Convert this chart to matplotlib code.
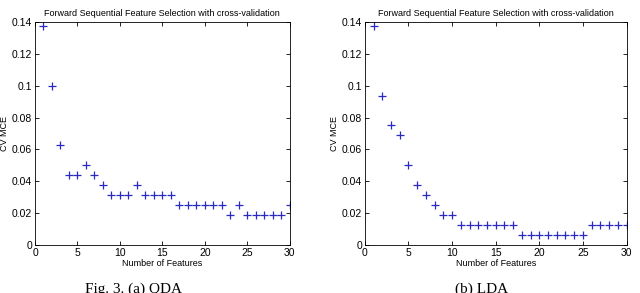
import matplotlib
matplotlib.use("Agg")
import matplotlib.pyplot as plt

n_feat = list(range(1, 31))

# (a) QDA
mce_qda = [0.1375, 0.1, 0.0625, 0.04375, 0.04375, 0.05, 0.04375, 0.0375, 0.03125, 0.03125,
           0.03125, 0.0375, 0.03125, 0.03125, 0.03125, 0.03125, 0.025, 0.025, 0.025, 0.025,
           0.025, 0.025, 0.01875, 0.025, 0.01875, 0.01875, 0.01875, 0.01875, 0.01875, 0.025]

# (b) LDA
mce_lda = [0.1375, 0.09375, 0.075, 0.06875, 0.05, 0.0375, 0.03125, 0.025, 0.01875, 0.01875,
           0.0125, 0.0125, 0.0125, 0.0125, 0.0125, 0.0125, 0.0125, 0.00625, 0.00625, 0.00625,
           0.00625, 0.00625, 0.00625, 0.00625, 0.00625, 0.0125, 0.0125, 0.0125, 0.0125, 0.0125]

yticks = [0, 0.02, 0.04, 0.06, 0.08, 0.1, 0.12, 0.14]
yticklabels = ["0", "0.02", "0.04", "0.06", "0.08", "0.1", "0.12", "0.14"]
xticks = [0, 5, 10, 15, 20, 25, 30]

plt.rcParams['font.family'] = ['Liberation Sans', 'DejaVu Sans']

fig = plt.figure(figsize=(6.4, 2.93), dpi=100)
ax1 = fig.add_axes([0.0547, 0.164, 0.398, 0.761])
ax2 = fig.add_axes([0.570, 0.164, 0.409, 0.761])

for ax, vals in [(ax1, mce_qda), (ax2, mce_lda)]:
    ax.plot(n_feat, vals, '+', color='#2a2ac0', markersize=6, markeredgewidth=0.9)
    ax.set_xlim(0, 30)
    ax.set_ylim(0, 0.14)
    ax.set_xticks(xticks)
    ax.set_yticks(yticks)
    ax.set_yticklabels(yticklabels)
    ax.tick_params(direction='in', top=True, right=True, labelsize=7.5, length=3, width=0.6, pad=2)
    for s in ax.spines.values():
        s.set_linewidth(0.6)
    ax.set_title("Forward Sequential Feature Selection with cross-validation", fontsize=6.5, pad=4)
    ax.set_xlabel("Number of Features", fontsize=6.5, labelpad=1)
    ax.set_ylabel("CV MCE", fontsize=6.5, labelpad=2)

# caption, cut off at the bottom edge as in the source image
fig.text(0.133, 1 - 283 / 293, "Fig. 3. (a) QDA", family='Liberation Serif', fontsize=11, va='top')
fig.text(0.711, 1 - 283 / 293, "(b) LDA", family='Liberation Serif', fontsize=11, va='top')

fig.savefig("out.png", dpi=100)
